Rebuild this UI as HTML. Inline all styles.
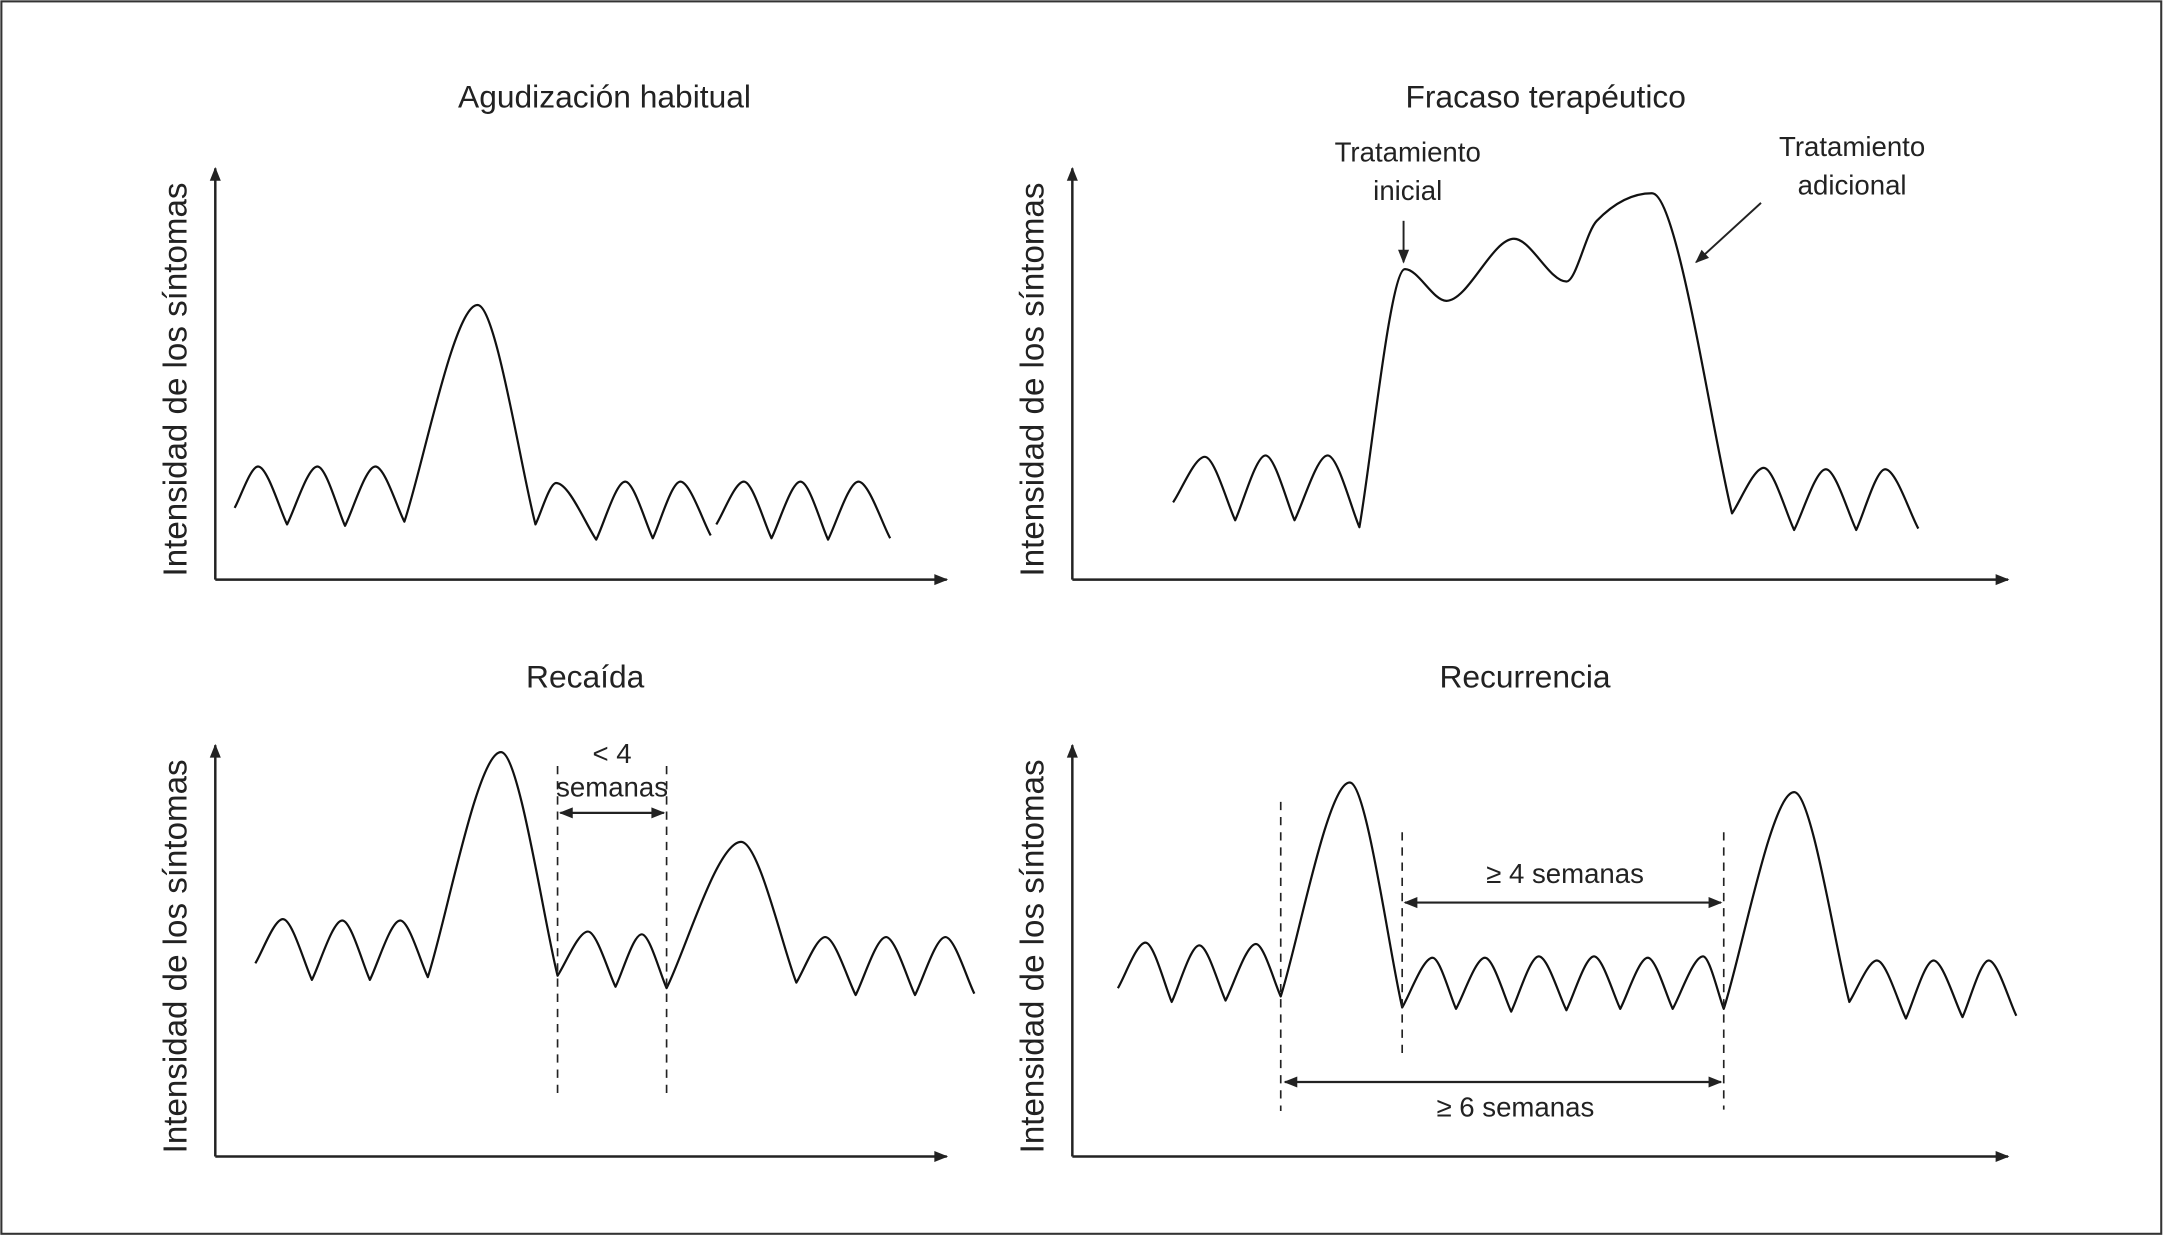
<!DOCTYPE html>
<html><head><meta charset="utf-8"><style>
html,body{margin:0;padding:0;background:#fff;}
svg{display:block;}
text{font-family:"Liberation Sans",Arial,sans-serif;fill:#222;}
.ttl{font-size:23px;}
.yl{font-size:24px;}
.ann{font-size:20px;}
</style></head><body>
<svg id="fig" width="2164" height="1236" viewBox="0 0 1568 895.6" preserveAspectRatio="none" xmlns="http://www.w3.org/2000/svg">
<defs>
<marker id="ah" viewBox="0 0 10 10" refX="9" refY="5" markerWidth="11" markerHeight="10" markerUnits="userSpaceOnUse" orient="auto-start-reverse"><path d="M0,1 L10,5 L0,9 z" fill="#222"/></marker>
</defs>
<rect x="1" y="1" width="1565" height="893" fill="none" stroke="#333" stroke-width="1.5"/>
<g id="root"></g>
</svg>
<script>
// Panel 1: Agudización habitual
const p1T=[14,31,52,74,94,116,137,190,232,247,276,297,317,337,359];
const p1V=[52,82,40,82,39,82,42,199,40,70,29,71,30,71,32];
const p1bT=[363,383,403,424,444,466,489];
const p1bV=[40,71,30,71,29,71,30];
// Panel 2: Fracaso terapéutico
const p2T=[73,96,118,140,161,185,208,241,271,320,358,380,420,478,501,523,546,568,589,613];
const p2V=[56,89,43,90,43,90,38,225,202,247,216,260,280,48,81,36,80,36,80,37];
// Panel 3: Recaída
const p3T=[29,49,70,92,112,134,154,207,248,270,290,309,327,381,421,442,464,486,507,529,550];
const p3V=[140,172,128,171,128,171,130,293,131,163,123,161,122,228,126,159,117,159,117,159,118];
const p3Marks=[248,327];
// Panel 4: Recurrencia
const p4T=[33,53,72,92,111,133,151,201,239,261,278,299,318,338,358,378,397,417,435,457,472,523,563,583,604,624,645,664,684];
const p4V=[122,155,112,153,113,154,116,271,108,144,107,144,105,145,106,145,107,144,107,145,107,264,112,142,100,142,101,142,102];
const p4Marks=[151,239,472];

const NS='http://www.w3.org/2000/svg';
const root=document.getElementById('root');
function mk(tag,attrs,parent){const e=document.createElementNS(NS,tag);for(const k in attrs)e.setAttribute(k,attrs[k]);(parent||root).appendChild(e);return e;}
function txt(x,y,s,cls,parent,extra){const e=mk('text',Object.assign({x:x,y:y,'text-anchor':'middle',class:cls},extra||{}),parent);e.textContent=s;return e;}
function panel(x0,y0,xEnd,yTop){
  return {sx:t=>x0+t, sy:v=>y0-v, x0,y0,xEnd,yTop};
}
function kind(pts,i,P){
  const p=pts[i],a=pts[i-1],b=pts[i+1];
  if(!a||!b) return 'end';
  if(p[1]<=a[1]&&p[1]<=b[1]) return 'peak';
  if(p[1]>=a[1]&&p[1]>=b[1]) return (P.y0-p[1]>150)?'peak':'trough';
  return 'mid';
}
function ctrl(pts,i,j,P){
  const p=pts[i],q=pts[j],dx=q[0]-p[0],dy=q[1]-p[1],k=kind(pts,i,P);
  if(k==='peak') return [p[0]+dx*0.32,p[1]];
  if(k==='mid'){const a=pts[i-1],b=pts[i+1];const s=(b[1]-a[1])/(b[0]-a[0]);return [p[0]+dx*0.35,p[1]+s*dx*0.35];}
  return [p[0]+dx*0.25,p[1]+dy*0.25];
}
function pathFor(pts,P){
  let d='M'+pts[0][0]+','+pts[0][1];
  for(let i=0;i<pts.length-1;i++){
    const c1=ctrl(pts,i,i+1,P),c2=ctrl(pts,i+1,i,P),p=pts[i+1];
    d+=' C'+c1[0].toFixed(1)+','+c1[1].toFixed(1)+' '+c2[0].toFixed(1)+','+c2[1].toFixed(1)+' '+p[0].toFixed(1)+','+p[1].toFixed(1);
  }
  return d;
}
function curve(P,T,V,g){
  const pts=T.map((t,i)=>[P.sx(t),P.sy(V[i])]);
  return mk('path',{d:pathFor(pts,P),fill:'none',stroke:'#111','stroke-width':1.6,'stroke-linejoin':'round'},g);
}
function axes(P,g){
  const a=mk('line',{x1:P.x0,y1:P.y0,x2:P.x0,y2:P.yTop,stroke:'#222','stroke-width':1.8,'marker-end':'url(#ah)'},g);
  
  
  const b=mk('line',{x1:P.x0,y1:P.y0,x2:P.xEnd,y2:P.y0,stroke:'#222','stroke-width':1.8,'marker-end':'url(#ah)'},g);
  
  
  const cy=(P.y0+P.yTop)/2+4;
  const l=txt(P.x0-21,cy,'Intensidad de los síntomas','yl',g,{transform:'rotate(-90 '+(P.x0-21)+' '+cy+')'});
  
  
}
function group(name){const g=mk('g',{});return g;}
function dashed(x,y1,y2,g){const e=mk('line',{x1:x,y1:y1,x2:x,y2:y2,stroke:'#222','stroke-width':1.2,'stroke-dasharray':'6,5'},g);return e;}
function dbl(x1,x2,y,g){const e=mk('line',{x1:x1,y1:y,x2:x2,y2:y,stroke:'#222','stroke-width':1.6,'marker-start':'url(#ah)','marker-end':'url(#ah)'},g);return e;}

// Panel 1
let g=group('panel-agudizacion-habitual');
let P=panel(156,420,686,122);
axes(P,g);
let t=txt(438,78,'Agudización habitual','ttl',g);
let c=curve(P,p1T,p1V,g);
c=curve(P,p1bT,p1bV,g);

// Panel 2
g=group('panel-fracaso-terapeutico');
P=panel(777,420,1455,122);
axes(P,g);
t=txt(1120,78,'Fracaso terapéutico','ttl',g);
c=curve(P,p2T,p2V,g);
t=txt(1020,117,'Tratamiento','ann',g);
t=txt(1020,145,'inicial','ann',g);
let ar=mk('line',{x1:1017,y1:160,x2:1017,y2:190,stroke:'#222','stroke-width':1.4,'marker-end':'url(#ah)'},g);
t=txt(1342,113,'Tratamiento','ann',g);
t=txt(1342,141,'adicional','ann',g);
ar=mk('line',{x1:1276,y1:147,x2:1229,y2:190,stroke:'#222','stroke-width':1.4,'marker-end':'url(#ah)'},g);

// Panel 3
g=group('panel-recaida');
P=panel(156,838,686,540);
axes(P,g);
t=txt(424,498,'Recaída','ttl',g);
c=curve(P,p3T,p3V,g);
p3Marks.forEach(m=>dashed(P.sx(m),555,795,g));
dbl(P.sx(p3Marks[0])+2,P.sx(p3Marks[1])-2,589,g);
t=txt((P.sx(p3Marks[0])+P.sx(p3Marks[1]))/2,553,'< 4','ann',g);
t=txt((P.sx(p3Marks[0])+P.sx(p3Marks[1]))/2,577,'semanas','ann',g);

// Panel 4
g=group('panel-recurrencia');
P=panel(777,838,1455,540);
axes(P,g);
t=txt(1105,498,'Recurrencia','ttl',g);
c=curve(P,p4T,p4V,g);
dashed(P.sx(p4Marks[0]),581,805,g);
dashed(P.sx(p4Marks[1]),603,767,g);
dashed(P.sx(p4Marks[2]),603,804,g);
dbl(P.sx(p4Marks[1])+2,P.sx(p4Marks[2])-2,654,g);
dbl(P.sx(p4Marks[0])+3,P.sx(p4Marks[2])-2,784,g);
t=txt(1134,640,'≥ 4 semanas','ann',g);
t=txt(1098,809,'≥ 6 semanas','ann',g);
</script>
</body></html>
